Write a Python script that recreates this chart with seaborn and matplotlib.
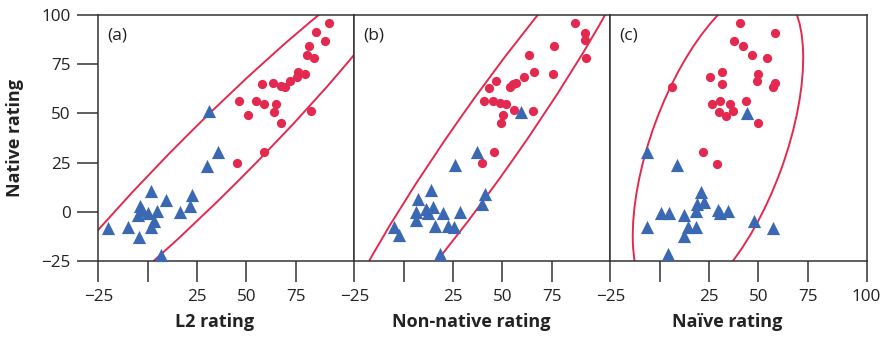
import matplotlib
matplotlib.use("Agg")
import matplotlib.pyplot as plt
from matplotlib.patches import Ellipse
import seaborn as sns
import pandas as pd

# ---------------- data ----------------
panel_letters = ["(a)", "(b)", "(c)"]
x_labels = ["L2 rating", "Non-native rating", "Naïve rating"]
y_label = "Native rating"

# panel (a) L2 vs native
a_circle_x = [91.9, 85.1, 90.0, 81.7, 80.6, 84.3, 76.0, 79.7, 75.5, 72.0, 63.5, 58.0, 67.4, 69.4,
              46.3, 55.1, 59.1, 64.9, 64.0, 51.1, 67.4, 82.8, 59.0, 45.3]
a_circle_y = [95.6, 91.2, 86.6, 84.1, 79.5, 78.2, 71.1, 70.0, 68.5, 66.3, 65.5, 65.1, 63.8, 63.1,
              56.2, 56.3, 54.7, 54.8, 50.8, 49.2, 45.2, 51.1, 30.1, 24.7]
a_tri_x = [31.2, 35.9, 30.0, 22.6, 21.4, 16.3, 9.1, 1.6, -3.9, -3.1, 0.3, 4.5, -4.8, 3.3, 1.6,
           -10.2, -20.3, -4.4, 7.0]
a_tri_y = [51.1, 30.5, 23.4, 8.5, 3.0, -0.3, 5.9, 10.7, 3.0, 0.8, -0.8, 0.3, -1.7, -4.7, -7.6,
           -7.6, -8.1, -12.7, -21.7]

# panel (b) non-native vs native
b_circle_x = [87.0, 91.7, 91.7, 76.2, 63.7, 92.4, 66.1, 75.7, 61.0, 46.8, 56.8, 55.3, 53.8, 43.3,
              40.8, 45.2, 48.9, 52.1, 56.0, 65.6, 50.4, 49.2, 45.7, 39.9]
b_circle_y = [95.6, 91.0, 87.1, 84.4, 79.5, 78.2, 71.1, 70.1, 68.2, 66.5, 65.5, 64.8, 63.5, 62.8,
              56.3, 56.2, 55.0, 54.7, 51.6, 51.1, 48.9, 45.2, 30.5, 24.7]
b_tri_x = [59.5, 37.1, 25.9, 41.4, 39.6, 13.6, 7.0, 11.1, 14.8, 6.0, 12.4, 20.0, 28.5, 6.0, 15.8,
           22.6, 25.6, -4.9, -2.2, 18.3]
b_tri_y = [50.8, 30.5, 23.7, 9.0, 3.9, 11.0, 6.4, 1.4, 2.5, 0.0, -0.8, -0.8, 0.0, -4.2, -7.1,
           -7.1, -7.6, -7.6, -11.8, -21.2]

# panel (c) naive vs native
c_circle_x = [40.6, 58.5, 37.7, 42.3, 46.5, 54.4, 31.3, 25.3, 49.7, 49.5, 58.6, 57.4, 31.5, 6.0,
              30.7, 26.4, 35.5, 43.8, 30.1, 33.5, 37.1, 49.9, 21.7, 29.0]
c_circle_y = [95.6, 91.0, 86.6, 84.4, 79.5, 78.2, 71.1, 68.2, 70.2, 66.5, 65.5, 63.1, 64.8, 63.1,
              56.3, 54.5, 54.7, 56.0, 50.8, 48.7, 51.1, 45.2, 30.5, 24.4]
c_tri_x = [44.0, -6.3, 8.6, 20.9, 22.6, 18.8, 18.3, 29.3, 34.4, 4.5, 0.6, 12.1, 30.6, 47.8, 57.5,
           -6.6, 14.1, 18.3, 12.4, 4.3]
c_tri_y = [50.3, 30.3, 23.5, 9.8, 5.2, 3.9, 0.5, 0.8, 0.5, -0.5, -0.8, -1.7, -0.5, -4.7, -8.1,
           -7.6, -7.6, -7.6, -12.4, -21.2]

# confidence ellipses: center x, center y, semi-major, semi-minor, angle (deg)
ell_cx = [33.0, 42.0, 29.5]
ell_cy = [27.25, 37.0, 33.0]
ell_a = [141.8, 135.0, 85.0]
ell_b = [17.3, 17.0, 34.0]
ell_angle = [45.0, 55.0, 70.0]

x_ticks = [-25, 0, 25, 50, 75]
x_tick_labels = ["\u221225", "", "25", "50", "75"]
y_ticks = [-25, 0, 25, 50, 75, 100]
y_tick_labels = ["\u221225", "0", "25", "50", "75", "100"]
last_tick_label = "100"

circles = [(a_circle_x, a_circle_y), (b_circle_x, b_circle_y), (c_circle_x, c_circle_y)]
tris = [(a_tri_x, a_tri_y), (b_tri_x, b_tri_y), (c_tri_x, c_tri_y)]

# ---------------- style ----------------
sns.set_style("ticks")
plt.rcParams["font.family"] = ["Open Sans", "DejaVu Sans"]
RED = "#E3294F"
BLUE = "#3B68B3"
SPINE = "#333333"
XMAX = 104.8

fig, axes = plt.subplots(1, 3, figsize=(8.86, 3.37), dpi=100, sharey=True)
fig.subplots_adjust(left=0.111, right=0.978, top=0.956, bottom=0.2255, wspace=0)

for i, ax in enumerate(axes):
    cdf = pd.DataFrame({"x": circles[i][0], "y": circles[i][1]})
    tdf = pd.DataFrame({"x": tris[i][0], "y": tris[i][1]})
    e = Ellipse((ell_cx[i], ell_cy[i]), 2 * ell_a[i], 2 * ell_b[i], angle=ell_angle[i],
                fill=False, edgecolor=RED, lw=1.4, zorder=1)
    ax.add_patch(e)
    sns.scatterplot(data=cdf, x="x", y="y", marker="o", color=RED, s=44, linewidth=0,
                    ax=ax, zorder=3, clip_on=False)
    sns.scatterplot(data=tdf, x="x", y="y", marker="^", color=BLUE, s=90, linewidth=0,
                    ax=ax, zorder=4, clip_on=False)
    ax.set_xlim(-25, XMAX)
    ax.set_ylim(-25, 100)
    if i == 2:
        ax.set_xticks(x_ticks + [XMAX])
        ax.set_xticklabels(x_tick_labels + [last_tick_label])
    else:
        ax.set_xticks(x_ticks)
        ax.set_xticklabels(x_tick_labels)
    ax.set_yticks(y_ticks)
    ax.set_yticklabels(y_tick_labels)
    ax.tick_params(axis="x", direction="out", length=15, width=1.1, color=SPINE,
                   labelsize=12.3, pad=5, labelcolor="#222222")
    if i == 0:
        ax.tick_params(axis="y", direction="out", length=15, width=1.1, color=SPINE,
                       labelsize=12.3, pad=5, labelcolor="#222222")
    else:
        ax.tick_params(axis="y", left=False, labelleft=False)
    for sp in ax.spines.values():
        sp.set_visible(True)
        sp.set_color(SPINE)
        sp.set_linewidth(1.1)
    ax.set_xlabel(x_labels[i], fontsize=13, fontweight="bold", labelpad=6, color="#222222")
    ax.xaxis.label.set_x(0.455)
    ax.set_ylabel("")
    ax.text(0.035, 0.95, panel_letters[i], transform=ax.transAxes, ha="left", va="top",
            fontsize=12.5, color="#222222")

fig.text(0.017, 0.59, y_label, rotation=90, ha="center", va="center",
         fontsize=13, fontweight="bold", color="#222222")

fig.savefig("out.png", dpi=100)
